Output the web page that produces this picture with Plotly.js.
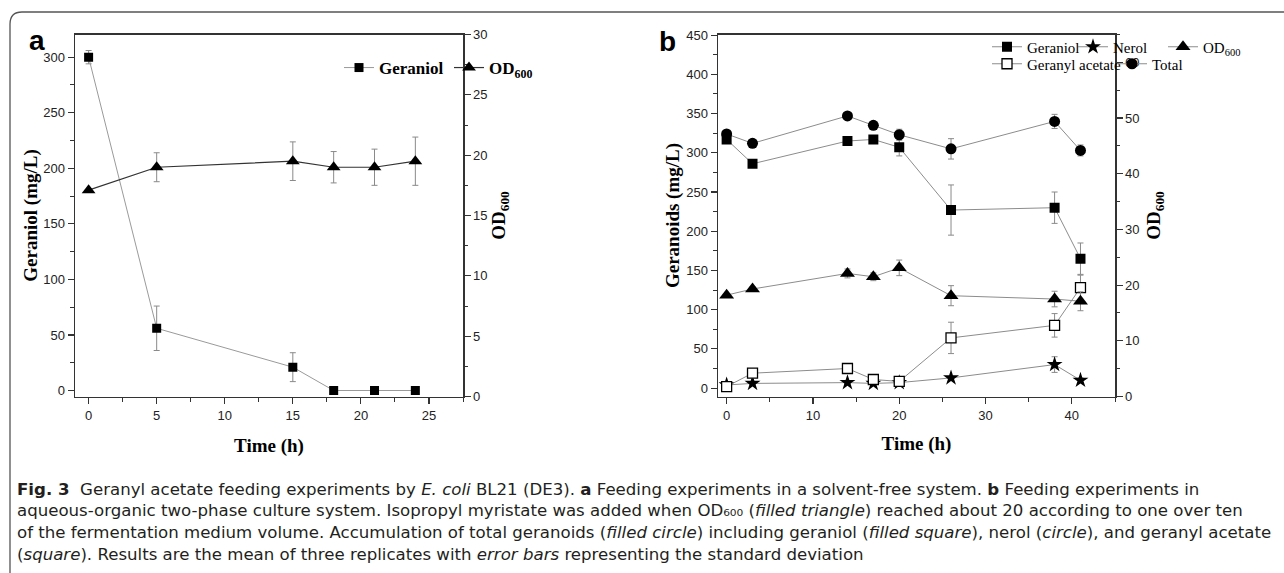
<!DOCTYPE html>
<html><head><meta charset="utf-8">
<script src="https://cdn.plot.ly/plotly-3.0.1.min.js"></script>
<style>html,body{margin:0;padding:0;background:#fff}#chart{width:1284px;height:573px}</style>
</head><body><div id="chart"></div>
<script>
// ---------- Panel a data ----------
const timeA = [0, 5, 15, 18, 21, 24];
const geraniolA = [300, 56, 21, 0, 0, 0];
const geraniolAErr = [6, 20, 13, 0, 0, 0];
const odA = [17.1, 19.0, 19.5, 19.0, 19.0, 19.5];
const odAErr = [0, 1.2, 1.6, 1.3, 1.5, 2.0];

// ---------- Panel b data ----------
const timeB = [0, 3, 14, 17, 20, 26, 38, 41];
const geraniolB = [317, 286, 315, 317, 307, 227, 230, 165];
const geraniolBErr = [4, 3, 4, 3, 11, 32, 20, 20];
const nerolB = [4, 6, 7, 6, 7, 13, 30, 10];
const nerolBErr = [4, 1, 1, 1, 1, 2, 10, 3];
const acetateB = [2, 19, 25, 11, 8.5, 64, 80, 128];
const acetateBErr = [1, 2, 2, 4, 3, 20, 15, 16];
const totalB = [324, 312, 347, 335, 323, 305, 340, 303];
const totalBErr = [4, 3, 3, 4, 7, 13, 9, 7];
const odB = [18.2, 19.3, 22.1, 21.5, 23.1, 18.1, 17.5, 17.1];
const odBErr = [0.3, 0.4, 0.8, 0.7, 1.4, 1.8, 1.4, 1.7];

// ---------- Tick values ----------
const xTicksA = [0, 5, 10, 15, 20, 25];
const xTicksB = [0, 10, 20, 30, 40];

const captionLines = [
  "<b>Fig. 3</b>\u00a0 Geranyl acetate feeding experiments by <i>E. coli</i> BL21 (DE3). <b>a</b> Feeding experiments in a solvent-free system. <b>b</b> Feeding experiments in",
  "aqueous-organic two-phase culture system. Isopropyl myristate was added when OD\u2086\u2080\u2080 (<i>filled triangle</i>) reached about 20 according to one over ten",
  "of the fermentation medium volume. Accumulation of total geranoids (<i>filled circle</i>) including geraniol (<i>filled square</i>), nerol (<i>circle</i>), and geranyl acetate",
  "(<i>square</i>). Results are the mean of three replicates with <i>error bars</i> representing the standard deviation"
];

const W = 1284, H = 573;
const px = v => v / W;
const py = v => 1 - v / H;

const errStyle = arr => ({type: 'data', array: arr, visible: true, color: '#8a8a8a', thickness: 1, width: 3});
const lineGray = {color: '#8c8c8c', width: 1};
const lineDark = {color: '#333', width: 1.2};

const traces = [
  {x: timeA, y: geraniolA, error_y: errStyle(geraniolAErr), xaxis: 'x', yaxis: 'y', name: 'Geraniol',
   mode: 'lines+markers', line: {color: '#9a9a9a', width: 1}, marker: {symbol: 'square', size: 9, color: '#000'}, legend: 'legend'},
  {x: timeA, y: odA, error_y: errStyle(odAErr), xaxis: 'x', yaxis: 'y3', name: 'OD<sub>600</sub>',
   mode: 'lines+markers', line: lineDark, marker: {symbol: 'triangle-up', size: 12, color: '#000'}, legend: 'legend2'},

  {x: timeB, y: geraniolB, error_y: errStyle(geraniolBErr), xaxis: 'x2', yaxis: 'y2', name: 'Geraniol',
   mode: 'lines+markers', line: lineGray, marker: {symbol: 'square', size: 10, color: '#000'}, legend: 'legend3'},
  {x: timeB, y: nerolB, error_y: errStyle(nerolBErr), xaxis: 'x2', yaxis: 'y2', name: 'Nerol',
   mode: 'lines+markers', line: lineGray, marker: {symbol: 'star', size: 12, color: '#000'}, legend: 'legend4'},
  {x: timeB, y: odB, error_y: errStyle(odBErr), xaxis: 'x2', yaxis: 'y4', name: 'OD<sub>600</sub>',
   mode: 'lines+markers', line: lineGray, marker: {symbol: 'triangle-up', size: 13, color: '#000'}, legend: 'legend5'},
  {x: timeB, y: acetateB, error_y: errStyle(acetateBErr), xaxis: 'x2', yaxis: 'y2', name: 'Geranyl acetate',
   mode: 'lines+markers', line: lineGray, marker: {symbol: 'square', size: 10, color: '#fff', line: {color: '#000', width: 1.3}}, legend: 'legend6'},
  {x: timeB, y: totalB, error_y: errStyle(totalBErr), xaxis: 'x2', yaxis: 'y2', name: 'Total',
   mode: 'lines+markers', line: lineGray, marker: {symbol: 'circle', size: 11, color: '#000'}, legend: 'legend7'}
];

const tickFont = {family: 'Liberation Sans, Arial, sans-serif', size: 13, color: '#222'};
const titleFont = {family: 'Liberation Serif, Times New Roman, serif', size: 19, color: '#000', weight: 'bold'};
const axLine = {showline: true, linecolor: '#333', linewidth: 1.5, ticks: 'outside', tickcolor: '#333', tickwidth: 1.2, ticklen: 6,
  showgrid: false, zeroline: false, tickfont: tickFont};
const minorOf = d => ({dtick: d, tick0: 0, ticks: 'outside', ticklen: 3.5, tickcolor: '#333', tickwidth: 1});

const yDom = [py(396.5), py(34.5)];

const legA = {family: 'Liberation Serif, Times New Roman, serif', size: 17, color: '#000', weight: 'bold'};
const legB = {family: 'Liberation Serif, Times New Roman, serif', size: 15, color: '#000'};
const mkLegend = (x, y, font) => ({orientation: 'h', x: px(x), y: py(y), xanchor: 'left', yanchor: 'middle',
  bgcolor: 'rgba(0,0,0,0)', borderwidth: 0, font: font, itemwidth: 30});

const layout = {
  width: W, height: H,
  margin: {l: 0, r: 0, t: 0, b: 0},
  paper_bgcolor: '#fff', plot_bgcolor: 'rgba(0,0,0,0)',
  showlegend: true,
  xaxis: Object.assign({}, axLine, {domain: [px(75), px(463)], range: [-1, 27.5], anchor: 'y', mirror: true,
    tickmode: 'array', tickvals: xTicksA, minor: minorOf(2.5),
    title: {text: 'Time (h)', font: titleFont, standoff: 17}}),
  yaxis: Object.assign({}, axLine, {domain: yDom, range: [-5.4, 320.4], anchor: 'x', dtick: 50, tick0: 0,
    minor: minorOf(25), title: {text: 'Geraniol (mg/L)', font: titleFont, standoff: 0}}),
  yaxis3: Object.assign({}, axLine, {overlaying: 'y', side: 'right', anchor: 'x', range: [0, 30], dtick: 5, tick0: 0,
    minor: minorOf(2.5), title: {text: 'OD<sub>600</sub>', font: titleFont, standoff: 4}}),

  xaxis2: Object.assign({}, axLine, {domain: [px(718), px(1115)], range: [-1, 45], anchor: 'y2', mirror: true,
    tickmode: 'array', tickvals: xTicksB, minor: minorOf(5),
    title: {text: 'Time (h)', font: titleFont, standoff: 15}}),
  yaxis2: Object.assign({}, axLine, {domain: yDom, range: [-10.7, 450.8], anchor: 'x2', dtick: 50, tick0: 0,
    minor: minorOf(25), title: {text: 'Geranoids (mg/L)', font: titleFont, standoff: 1}}),
  yaxis4: Object.assign({}, axLine, {overlaying: 'y2', side: 'right', anchor: 'x2', range: [0, 65], dtick: 10, tick0: 0,
    minor: minorOf(5), title: {text: 'OD<sub>600</sub>', font: titleFont, standoff: 8}}),

  legend: mkLegend(339, 68, legA),
  legend2: mkLegend(449, 68, legA),
  legend3: mkLegend(987, 47, legB),
  legend4: mkLegend(1073, 47, legB),
  legend5: mkLegend(1163, 47, legB),
  legend6: mkLegend(987, 64, legB),
  legend7: mkLegend(1112, 64, legB),

  annotations: [
    {text: '<b>a</b>', xref: 'paper', yref: 'paper', x: px(37), y: py(40), xanchor: 'center', yanchor: 'middle', showarrow: false,
      font: {family: 'Liberation Sans, Arial, sans-serif', size: 28, color: '#000'}},
    {text: '<b>b</b>', xref: 'paper', yref: 'paper', x: px(668), y: py(42), xanchor: 'center', yanchor: 'middle', showarrow: false,
      font: {family: 'Liberation Sans, Arial, sans-serif', size: 28, color: '#000'}}
  ].concat(captionLines.map((t, i) => ({
      text: t, xref: 'paper', yref: 'paper', x: px(15), y: py(489 + i * 21.7), xanchor: 'left', yanchor: 'middle',
      showarrow: false, align: 'left', font: {family: 'DejaVu Sans, sans-serif', size: 16.6, color: '#231f20'}}))),

  shapes: [
    {type: 'path', xref: 'paper', yref: 'paper', layer: 'below',
     path: `M ${px(10)},${py(580)} L ${px(10)},${py(24)} Q ${px(10)},${py(12)} ${px(22)},${py(12)} L ${px(1300)},${py(12)}`,
     line: {color: '#555', width: 1.3}}
  ]
};

Plotly.newPlot('chart', traces, layout, {displayModeBar: false, staticPlot: true});
</script>
</body></html>
